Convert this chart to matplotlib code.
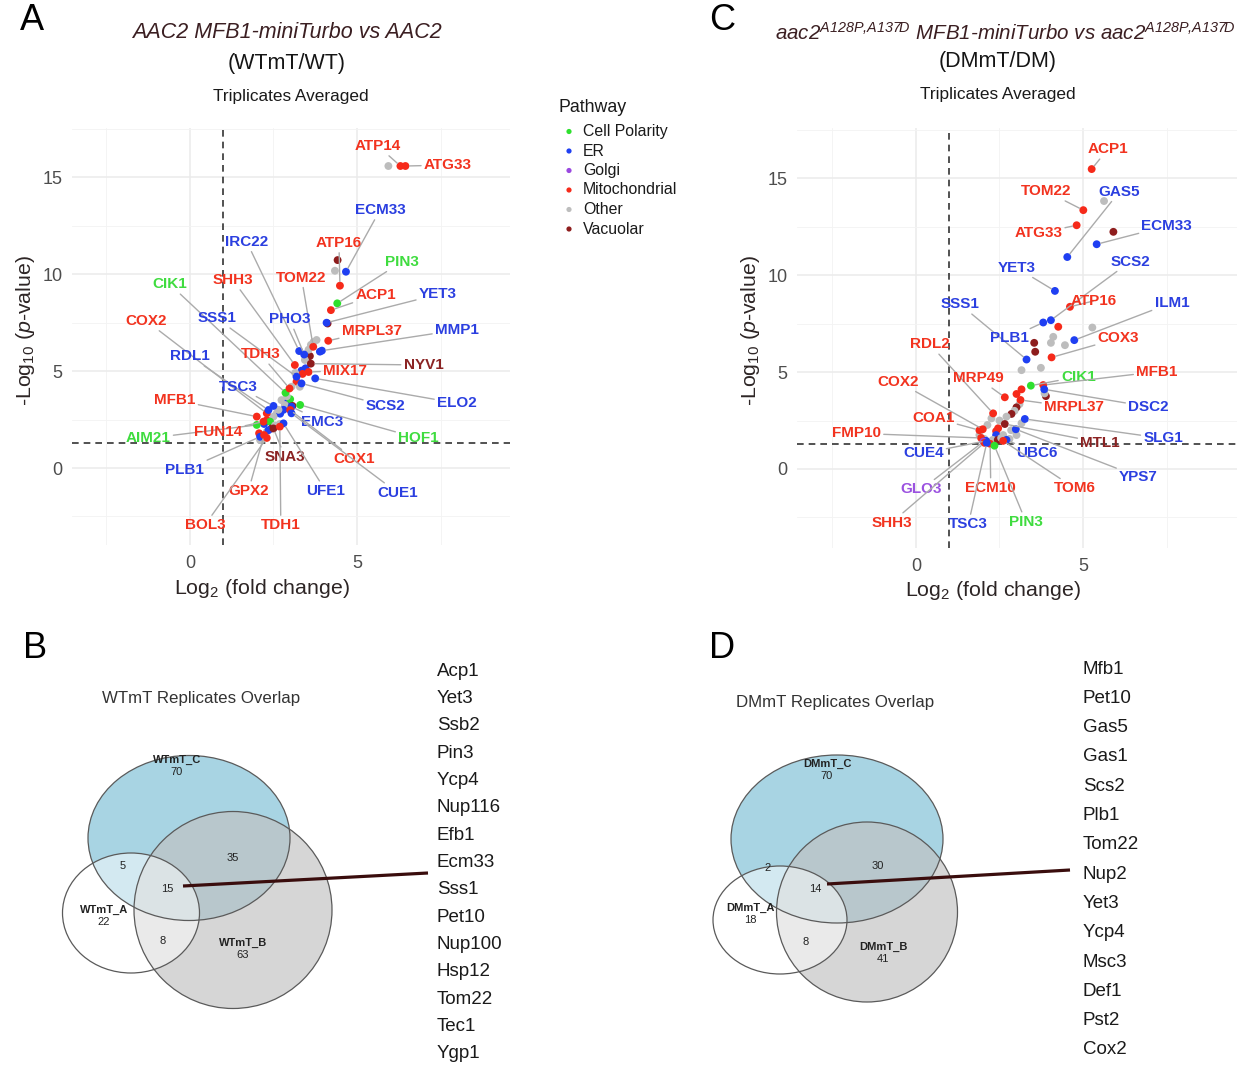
import matplotlib
matplotlib.use('Agg')
import matplotlib.pyplot as plt
from matplotlib.patches import Ellipse
import numpy as np

plt.rcParams['font.family'] = ['Liberation Sans', 'DejaVu Sans']
plt.rcParams['mathtext.fontset'] = 'custom'
plt.rcParams['mathtext.rm'] = 'Liberation Sans'
plt.rcParams['mathtext.it'] = 'Liberation Sans:italic'
plt.rcParams['mathtext.bf'] = 'Liberation Sans:bold'
plt.rcParams['mathtext.sf'] = 'Liberation Sans:italic'

# pathway codes
pathways = ['Cell Polarity', 'ER', 'Golgi', 'Mitochondrial', 'Other', 'Vacuolar']
codes = {'CP': 'Cell Polarity', 'ER': 'ER', 'GO': 'Golgi', 'MI': 'Mitochondrial',
         'OT': 'Other', 'VA': 'Vacuolar'}
point_colors = {'Cell Polarity': '#2ee02e', 'ER': '#1f3ff2', 'Golgi': '#9a48e0',
                'Mitochondrial': '#f62a1a', 'Other': '#bdbdbd', 'Vacuolar': '#8e1d1d'}
label_colors = {'Cell Polarity': '#3fdc3f', 'ER': '#2b3fe0', 'Golgi': '#9b52e0',
                'Mitochondrial': '#f2331f', 'Other': '#999999', 'Vacuolar': '#8b2323'}

# ---------- panel A : WTmT / WT ----------
wt_genes = ['ATP14', 'ATG33', 'ECM33', 'ATP16', 'PIN3', 'IRC22', 'SHH3', 'TOM22', 'ACP1',
            'YET3', 'CIK1', 'SSS1', 'PHO3', 'COX2', 'MRPL37', 'MMP1', 'RDL1', 'TDH3',
            'NYV1', 'MIX17', 'TSC3', 'SCS2', 'ELO2', 'MFB1', 'EMC3', 'HOF1', 'AIM21',
            'FUN14', 'PLB1', 'SNA3', 'COX1', 'GPX2', 'UFE1', 'CUE1', 'BOL3', 'TDH1']
wt_lfc = [6.30, 6.45, 4.67, 4.49, 4.41, 3.27, 3.14, 3.69, 4.22,
          4.09, 2.86, 3.19, 3.42, 2.30, 4.14, 3.95, 2.35, 2.98,
          3.62, 3.55, 2.50, 3.34, 3.75, 2.00, 3.04, 3.30, 2.00,
          2.20, 2.10, 2.50, 3.00, 2.22, 2.80, 3.04, 2.30, 2.69]
wt_logp = [15.57, 15.57, 10.12, 9.40, 8.49, 6.03, 5.31, 6.25, 8.14,
           7.49, 3.88, 4.71, 5.85, 2.82, 6.56, 6.05, 2.99, 4.10,
           5.38, 4.95, 3.20, 4.36, 4.62, 2.65, 3.16, 3.25, 2.22,
           2.39, 1.61, 2.04, 2.99, 1.70, 2.30, 2.82, 1.55, 2.13]
wt_path = ['MI', 'MI', 'ER', 'MI', 'CP', 'ER', 'MI', 'MI', 'MI',
           'ER', 'CP', 'ER', 'ER', 'MI', 'MI', 'ER', 'ER', 'MI',
           'VA', 'MI', 'ER', 'ER', 'ER', 'MI', 'ER', 'CP', 'CP',
           'MI', 'ER', 'VA', 'MI', 'MI', 'ER', 'ER', 'MI', 'MI']
wt_lab_x = [5.63, 7.72, 5.69, 4.46, 6.34, 1.70, 1.29, 3.34, 5.56,
            7.42, -0.60, 0.80, 2.99, -1.30, 5.44, 7.99, 0.00, 2.12,
            6.99, 4.64, 1.45, 5.86, 7.99, -0.45, 3.97, 6.84, -1.25,
            0.85, -0.15, 2.84, 4.92, 1.75, 4.06, 6.21, 0.45, 2.72]
wt_lab_y = [16.60, 15.62, 13.30, 11.60, 10.63, 11.66, 9.69, 9.81, 8.92,
            8.95, 9.47, 7.72, 7.66, 7.58, 7.08, 7.11, 5.77, 5.86,
            5.31, 5.02, 4.19, 3.20, 3.34, 3.51, 2.39, 1.53, 1.53,
            1.87, -0.10, 0.58, 0.45, -1.17, -1.17, -1.27, -2.94, -2.94]
wt_bg_lfc = [5.94, 4.42, 4.34, 4.12, 3.79, 3.62, 3.89, 3.59, 3.44, 3.46, 3.34, 3.37,
             3.19, 3.29, 3.04, 2.74, 2.95, 3.00, 2.84, 3.07, 2.80, 2.60, 2.70, 2.50,
             2.30, 2.22, 2.40, 2.44, 2.30, 2.07, 2.15, 2.10, 2.35, 2.69, 2.55, 3.15,
             2.90, 2.65, 3.55, 3.70]
wt_bg_logp = [15.57, 10.72, 10.17, 7.45, 6.60, 6.35, 6.00, 5.77, 5.57, 5.14, 5.02, 4.85,
              4.45, 4.19, 4.19, 3.50, 3.45, 3.55, 3.25, 3.20, 3.00, 2.82, 2.80, 2.65,
              2.47, 2.27, 2.39, 2.04, 1.87, 1.79, 1.61, 1.44, 1.95, 2.27, 2.20, 4.90,
              3.70, 3.00, 6.10, 6.50]
wt_bg_path = ['OT', 'VA', 'OT', 'VA', 'OT', 'OT', 'ER', 'VA', 'OT', 'ER', 'ER', 'MI',
              'MI', 'OT', 'OT', 'OT', 'ER', 'CP', 'OT', 'VA', 'ER', 'OT', 'ER', 'OT',
              'MI', 'ER', 'CP', 'VA', 'OT', 'MI', 'OT', 'OT', 'ER', 'OT', 'OT', 'OT',
              'OT', 'OT', 'OT', 'OT']

# ---------- panel C : DMmT / DM ----------
dm_genes = ['ACP1', 'TOM22', 'GAS5', 'ECM33', 'ATG33', 'YET3', 'SCS2', 'ATP16', 'ILM1',
            'SSS1', 'PLB1', 'COX3', 'RDL2', 'MRP49', 'COX2', 'CIK1', 'MFB1', 'MRPL37',
            'DSC2', 'COA1', 'FMP10', 'SLG1', 'MTL1', 'CUE4', 'UBC6', 'YPS7', 'GLO3',
            'ECM10', 'TOM6', 'SHH3', 'TSC3', 'PIN3']
dm_lfc = [5.26, 5.01, 4.53, 5.41, 4.81, 4.16, 4.04, 4.61, 4.74,
          3.31, 3.81, 4.06, 2.31, 2.66, 2.00, 3.44, 3.81, 3.13,
          3.84, 1.90, 1.95, 3.26, 2.66, 2.10, 2.71, 2.99, 2.02,
          2.22, 2.61, 2.05, 2.12, 2.35]
dm_logp = [15.48, 13.36, 10.94, 11.60, 12.58, 9.19, 7.68, 8.37, 6.65,
           5.65, 7.56, 5.76, 2.87, 3.70, 2.05, 4.30, 4.33, 3.56,
           4.11, 2.00, 1.60, 2.58, 2.32, 1.45, 1.50, 2.05, 1.41,
           1.30, 1.45, 1.35, 1.35, 1.20]
dm_path = ['MI', 'MI', 'ER', 'ER', 'MI', 'ER', 'ER', 'MI', 'ER',
           'ER', 'ER', 'MI', 'MI', 'MI', 'MI', 'CP', 'MI', 'MI',
           'ER', 'MI', 'MI', 'ER', 'VA', 'ER', 'ER', 'ER', 'GO',
           'MI', 'MI', 'MI', 'ER', 'CP']
dm_lab_x = [5.74, 3.89, 6.09, 7.51, 3.66, 3.01, 6.41, 5.31, 7.66,
            1.32, 2.79, 6.06, 0.42, 1.87, -0.53, 4.86, 7.21, 4.73,
            6.96, 0.52, -1.78, 7.40, 5.51, 0.22, 3.61, 6.66, 0.17,
            2.24, 4.76, -0.73, 1.57, 3.29]
dm_lab_y = [16.50, 14.34, 14.31, 12.54, 12.16, 10.39, 10.70, 8.67, 8.58,
            8.50, 6.74, 6.74, 6.43, 4.68, 4.50, 4.76, 5.02, 3.18,
            3.21, 2.65, 1.84, 1.58, 1.36, 0.81, 0.81, -0.40, -1.05,
            -0.96, -1.00, -2.77, -2.84, -2.72]
dm_bg_lfc = [5.63, 5.91, 4.26, 5.28, 4.11, 4.46, 3.54, 3.57, 4.04, 3.74, 3.16, 3.89,
             3.85, 3.16, 3.01, 3.10, 3.01, 2.95, 2.86, 2.71, 2.26, 3.16, 3.01, 2.46,
             2.40, 2.61, 2.40, 2.14, 1.90, 2.05, 2.30, 2.45, 2.55, 2.80, 2.85, 2.50]
dm_bg_logp = [13.83, 12.24, 7.34, 7.30, 6.82, 6.39, 6.51, 6.05, 6.51, 5.22, 5.10, 3.76,
              3.90, 4.11, 3.87, 3.35, 3.18, 3.00, 2.84, 2.70, 2.61, 2.36, 1.75, 2.10,
              1.95, 1.75, 1.75, 2.27, 1.75, 1.55, 1.50, 1.50, 1.60, 1.55, 2.00, 2.50]
dm_bg_path = ['OT', 'VA', 'MI', 'OT', 'OT', 'OT', 'VA', 'VA', 'OT', 'OT', 'OT', 'VA',
              'OT', 'MI', 'MI', 'OT', 'VA', 'OT', 'VA', 'OT', 'OT', 'OT', 'OT', 'MI',
              'MI', 'OT', 'ER', 'OT', 'OT', 'OT', 'OT', 'VA', 'OT', 'OT', 'OT', 'OT']

# ---------- Venn data ----------
wt_venn = {'C': 70, 'A': 22, 'B': 63, 'AC': 5, 'BC': 35, 'AB': 8, 'ABC': 15}
dm_venn = {'C': 70, 'A': 18, 'B': 41, 'AC': 2, 'BC': 30, 'AB': 8, 'ABC': 14}
wt_shared = ['Acp1', 'Yet3', 'Ssb2', 'Pin3', 'Ycp4', 'Nup116', 'Efb1', 'Ecm33', 'Sss1',
             'Pet10', 'Nup100', 'Hsp12', 'Tom22', 'Tec1', 'Ygp1']
dm_shared = ['Mfb1', 'Pet10', 'Gas5', 'Gas1', 'Scs2', 'Plb1', 'Tom22', 'Nup2', 'Yet3',
             'Ycp4', 'Msc3', 'Def1', 'Pst2', 'Cox2']

W, H = 1246, 1067
fig = plt.figure(figsize=(W / 100, H / 100), dpi=100)
fig.patch.set_facecolor('white')

# overlay in pixel units for texts / venn
ov = fig.add_axes([0, 0, 1, 1])
ov.set_xlim(0, W)
ov.set_ylim(H, 0)
ov.axis('off')


def volcano(rect, xlim, ylim, genes, lfc, logp, path, lab_x, lab_y, bg_lfc, bg_logp, bg_path):
    ax = fig.add_axes(rect)
    ax.set_xlim(*xlim)
    ax.set_ylim(*ylim)
    for s in ax.spines.values():
        s.set_visible(False)
    ax.set_xticks([0, 5])
    ax.set_yticks([0, 5, 10, 15])
    ax.set_xticks([-2.5, 2.5, 7.5], minor=True)
    ax.set_yticks([-2.5, 2.5, 7.5, 12.5, 17.5], minor=True)
    ax.grid(which='major', color='#ebebeb', lw=1.1)
    ax.grid(which='minor', color='#f3f3f3', lw=0.6)
    ax.set_axisbelow(True)
    ax.tick_params(which='both', length=0, labelsize=13, labelcolor='#4d4d4d')
    ax.tick_params(axis='x', pad=7)
    ax.tick_params(axis='y', pad=7)
    ax.axvline(1, color='#333333', ls=(0, (4, 3)), lw=1.2, zorder=1)
    ax.axhline(-np.log10(0.05), color='#333333', ls=(0, (4, 3)), lw=1.2, zorder=1)

    ax.scatter(bg_lfc, bg_logp, s=32, c=[point_colors[codes[p]] for p in bg_path],
               edgecolors='none', zorder=3)
    ax.scatter(lfc, logp, s=32, c=[point_colors[codes[p]] for p in path],
               edgecolors='none', zorder=3)
    for g, x, y, p, lx, ly in zip(genes, lfc, logp, path, lab_x, lab_y):
        ax.annotate(g, xy=(x, y), xytext=(lx, ly), textcoords='data',
                    ha='center', va='center', fontsize=11, fontweight='bold',
                    color=label_colors[codes[p]], zorder=5,
                    arrowprops=dict(arrowstyle='-', color='#ababab', lw=1.0,
                                    shrinkA=0, shrinkB=3))
    return ax


axA = volcano([72 / W, 1 - 545 / H, 438 / W, 417 / H], (-3.53, 9.58), (-3.97, 17.53),
              wt_genes, wt_lfc, wt_logp, wt_path, wt_lab_x, wt_lab_y,
              wt_bg_lfc, wt_bg_logp, wt_bg_path)
axC = volcano([797 / W, 1 - 548 / H, 440 / W, 420 / H], (-3.56, 9.61), (-4.08, 17.6),
              dm_genes, dm_lfc, dm_logp, dm_path, dm_lab_x, dm_lab_y,
              dm_bg_lfc, dm_bg_logp, dm_bg_path)

# panel letters
for letter, x, y in [('A', 32, 21), ('C', 722, 21), ('B', 35, 648), ('D', 722, 648)]:
    ov.text(x, y, letter, fontsize=26, ha='center', va='center', color='black')

# titles
title_col = '#3b1f22'
ov.text(287, 33, 'AAC2 MFB1-miniTurbo vs AAC2', fontsize=15.5, style='italic',
        ha='center', va='center', color=title_col)
ov.text(287, 63, '(WTmT/WT)', fontsize=15.5, ha='center', va='center', color='#151515')
ov.text(291, 96, 'Triplicates Averaged', fontsize=12.4, ha='center', va='center', color='#1a1a1a')
ov.text(1005, 33, r'aac2$^{\mathsf{A128P{,}A137D}}$ MFB1-miniTurbo vs aac2$^{\mathsf{A128P{,}A137D}}$',
        fontsize=14.8, style='italic', ha='center', va='center', color=title_col)
ov.text(998, 61, '(DMmT/DM)', fontsize=15.5, ha='center', va='center', color='#151515')
ov.text(998, 94, 'Triplicates Averaged', fontsize=12.4, ha='center', va='center', color='#1a1a1a')

# axis labels
lab_col = '#2d2525'
ylab = r'-Log$_{10}$ ($\mathit{p}$-value)'
xlab = r'Log$_{2}$ (fold change)'
ov.text(26, 330, ylab, fontsize=15.4, rotation=90, ha='center', va='center', color=lab_col)
ov.text(751, 330, ylab, fontsize=15.4, rotation=90, ha='center', va='center', color=lab_col)
ov.text(262, 589, xlab, fontsize=15.4, ha='center', va='center', color=lab_col)
ov.text(993, 591, xlab, fontsize=15.4, ha='center', va='center', color=lab_col)

# legend
ov.text(558, 107, 'Pathway', fontsize=12.8, ha='left', va='center', color='#1a1a1a')
for i, p in enumerate(pathways):
    yy = 131.5 + i * 19.5
    ov.scatter([569], [yy], s=14, color=point_colors[p], edgecolors='none')
    ov.text(583, yy, p, fontsize=11.4, ha='left', va='center', color='#1a1a1a')


# venn diagrams
def venn(counts, names, circ, title, title_xy, pos, line, genes, gx, gy0, gy1):
    fills = {'C': (0.66, 0.83, 0.89, 1.0), 'B': (0.757, 0.757, 0.757, 0.65),
             'A': (1.0, 1.0, 1.0, 0.5)}
    for key in ['C', 'B', 'A']:
        cx, cy, w, h = circ[key]
        ov.add_patch(Ellipse((cx, cy), w, h, facecolor=fills[key], edgecolor='none'))
    for key in ['C', 'B', 'A']:
        cx, cy, w, h = circ[key]
        ov.add_patch(Ellipse((cx, cy), w, h, facecolor='none', edgecolor='#5a5a5a', lw=0.9))
    ov.text(title_xy[0], title_xy[1], title, fontsize=12.2, ha='center', va='center',
            color='#333333')
    for key in ['A', 'B', 'C']:
        x, y = pos[key]
        ov.text(x, y - 6, names[key], fontsize=8, fontweight='bold', ha='center',
                va='center', color='#222222')
        ov.text(x, y + 6, str(counts[key]), fontsize=8, ha='center', va='center',
                color='#222222')
    for key in ['AC', 'BC', 'AB', 'ABC']:
        x, y = pos[key]
        ov.text(x, y, str(counts[key]), fontsize=8, ha='center', va='center',
                color='#222222')
    ov.plot(line[0], line[1], color='#3a0d0d', lw=2.3, solid_capstyle='butt')
    ys = np.linspace(gy0, gy1, len(genes))
    for g, y in zip(genes, ys):
        ov.text(gx, y, g, fontsize=13.5, ha='left', va='center', color='#1a1a1a')


venn(wt_venn, {'A': 'WTmT_A', 'B': 'WTmT_B', 'C': 'WTmT_C'},
     {'C': (189, 838, 202, 165), 'A': (131, 913, 137, 120), 'B': (233, 910, 198, 197)},
     'WTmT Replicates Overlap', (201, 699),
     {'C': (177, 766), 'A': (104, 916), 'B': (243, 949), 'AC': (123, 866),
      'BC': (233, 858), 'AB': (163, 941), 'ABC': (167, 889)},
     ([183, 428], [886, 873]), wt_shared, 437, 671, 1054)

venn(dm_venn, {'A': 'DMmT_A', 'B': 'DMmT_B', 'C': 'DMmT_C'},
     {'C': (837, 839, 212, 168), 'A': (780, 920, 134, 108), 'B': (867, 912, 181, 180)},
     'DMmT Replicates Overlap', (835, 702),
     {'C': (827, 770), 'A': (750, 914), 'B': (883, 953), 'AC': (768, 868),
      'BC': (878, 866), 'AB': (806, 942), 'ABC': (815, 889)},
     ([827, 1070], [884, 870]), dm_shared, 1083, 669, 1050)

fig.savefig('out.png', dpi=100, facecolor='white')
